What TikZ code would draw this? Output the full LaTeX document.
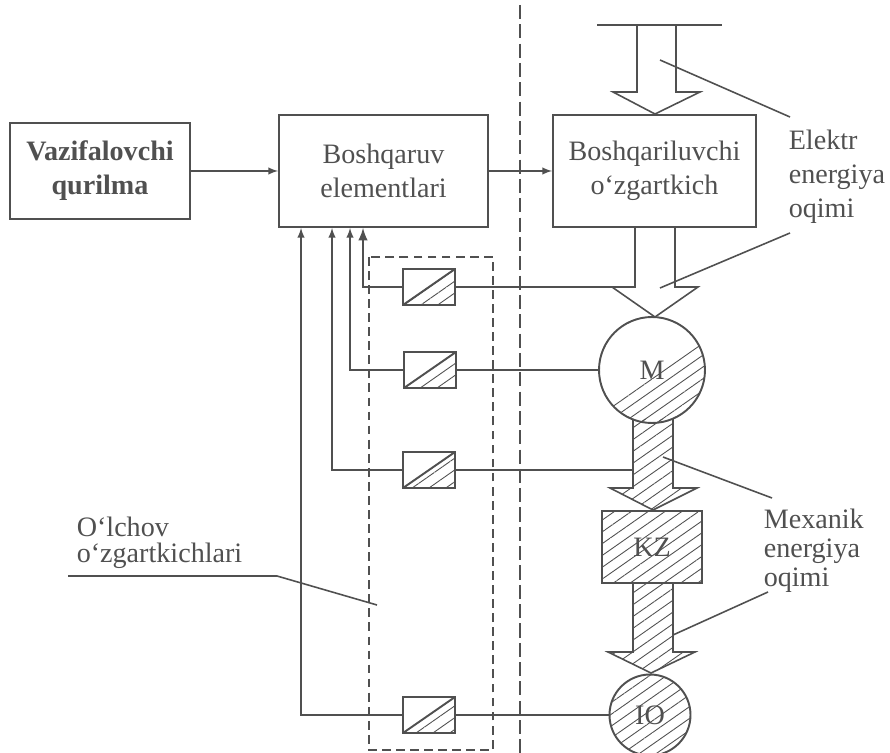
\documentclass[tikz,border=0pt]{standalone}
\usepackage{fontspec}
\setmainfont{Liberation Serif}
\usepackage{tikz}
\usetikzlibrary{arrows,positioning,calc,patterns.meta}

\definecolor{ink}{HTML}{505050}

\begin{document}
\begin{tikzpicture}[x=0.02cm, y=-0.02cm, color=ink, line width=0.9pt,
  txt/.style={font=\fontsize{16}{19.4}\selectfont, align=center},
  block/.style={draw, line width=1.1pt, txt, inner sep=0pt},
  hatch/.style={pattern={Lines[angle=35,distance=5.5pt,line width=0.5pt]}, pattern color=ink},
  sensor/.style={draw, line width=1.1pt, minimum width=1.04cm, minimum height=0.72cm, inner sep=0pt,
    path picture={
      \fill[hatch] (path picture bounding box.south west) -- (path picture bounding box.north east)
        -- (path picture bounding box.south east) -- cycle;
      \draw (path picture bounding box.south west) -- (path picture bounding box.north east);}},
  lbl/.style={font=\fontsize{16}{19.4}\selectfont, align=left, anchor=north west, inner sep=0pt}]

  \useasboundingbox (0,0) rectangle (890,753);

  % Control side
  \node[block, font=\fontsize{16}{19.4}\selectfont\bfseries, minimum width=3.6cm, minimum height=1.92cm]
    (vaz) at (100,171) {Vazifalovchi\\qurilma};
  \node[block, minimum width=4.18cm, minimum height=2.24cm] (bosh) at (383.5,171) {Boshqaruv\\elementlari};
  \node[block, minimum width=4.06cm, minimum height=2.24cm] (conv) at (654.5,171) {Boshqariluvchi\\o‘zgartkich};

  % Power side
  \node[draw, circle, line width=1.1pt, minimum size=2.12cm, inner sep=0pt, txt,
    path picture={\fill[hatch] ($(path picture bounding box.south west)+(0,0.36cm)$)
      -- ($(path picture bounding box.north east)+(0,-0.42cm)$)
      -- (path picture bounding box.south east) -- (path picture bounding box.south west) -- cycle;}]
    (m) at (652,370) {M};
  \node[draw, hatch, line width=1.1pt, minimum width=2cm, minimum height=1.44cm, txt] (kz) at (652,547) {KZ};
  \node[draw, circle, hatch, line width=1.1pt, minimum size=1.62cm, inner sep=0pt, txt] (io) at (650,715) {IO};

  % Sensors
  \node[sensor] (s1) at (429,287) {};
  \node[sensor] (s2) at (430,370) {};
  \node[sensor] (s3) at (429,470) {};
  \node[sensor] (s4) at (429,715) {};
  \draw[dash pattern=on 5pt off 3pt] (369,257) rectangle (493,750);

  % Separation line
  \draw[dash pattern=on 8pt off 3pt] (520,5) -- (520,753);

  % Electric flow
  \draw (597,25) -- (722,25);
  \draw (637,25) -- (637,92) -- (613,92) -- (655,114) -- (700,92) -- (676,92) -- (676,25);
  \coordinate (ea) at (635,287);
  \draw (conv.south -| ea) -- (ea) -- (612,287) -- (655,317) -- (698,287) -- (675,287) -- (675,227);

  % Mechanical flow
  \fill[hatch] (633,419) -- (633,488) -- (610,488) -- (653,510) -- (697,488) -- (673,488) -- (673,419) -- cycle;
  \draw (633,419) -- (633,488) -- (610,488) -- (653,510) -- (697,488) -- (673,488) -- (673,419);
  \fill[hatch] (633,583) -- (633,652) -- (608,652) -- (651,673) -- (695,652) -- (673,652) -- (673,583) -- cycle;
  \draw (633,583) -- (633,652) -- (608,652) -- (651,673) -- (695,652) -- (673,652) -- (673,583);
  \coordinate (ma) at (633,470);

  % Connections
  \draw[-latex] (vaz.east) -- (bosh.west);
  \draw[-latex] (bosh.east) -- (conv.west);
  \draw (s1.east) -- (ea);
  \draw (s2.east) -- (m.west);
  \draw (s3.east) -- (ma);
  \draw (s4.east) -- (io.west);
  \draw[-latex, line width=1.4pt] (s1.west) -| ($(bosh.south)+(-0.41cm,0)$);
  \draw[-latex] (s2.west) -| ($(bosh.south)+(-0.67cm,0)$);
  \draw[-latex] (s3.west) -| ($(bosh.south)+(-1.03cm,0)$);
  \draw[-latex] (s4.west) -| ($(bosh.south)+(-1.65cm,0)$);

  % Labels
  \node[lbl] (elek) at (788,129) {Elektr\\energiya\\oqimi};
  \node[lbl, font=\fontsize{16}{16.5}\selectfont] (mex) at (763,508) {Mexanik\\energiya\\oqimi};
  \node[lbl, font=\fontsize{16}{15}\selectfont] (olch) at (76,516) {O‘lchov\\o‘zgartkichlari};
  \coordinate (l1a) at (660,60);  \coordinate (l1b) at (790,117);
  \coordinate (l2a) at (790,233); \coordinate (l2b) at (660,288);
  \coordinate (l3a) at (663,457); \coordinate (l3b) at (772,498);
  \coordinate (l4a) at (768,592); \coordinate (l4b) at (673,635);
  \coordinate (l5a) at (68,576);  \coordinate (l5b) at (277,576); \coordinate (l5c) at (377,605);
  \draw (l1a) -- (l1b);
  \draw (l2a) -- (l2b);
  \draw (l3a) -- (l3b);
  \draw (l4a) -- (l4b);
  \draw (l5a) -- (l5b) -- (l5c);

\end{tikzpicture}
\end{document}
